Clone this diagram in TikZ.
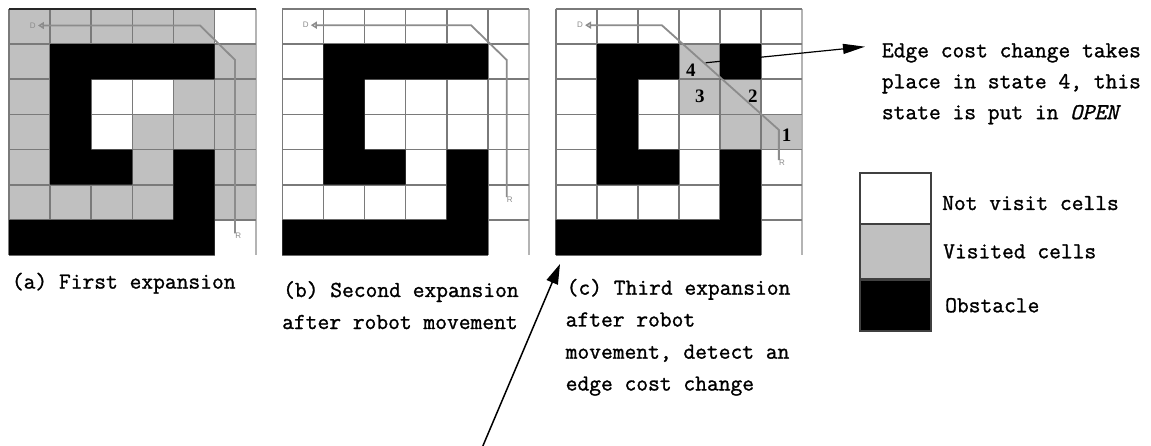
\documentclass[tikz,border=0pt]{standalone}
\usepackage{fontspec}
\usetikzlibrary{arrows.meta}
\newfontfamily\monof[FakeBold=1.2]{Latin Modern Mono}
\newfontfamily\digf{Liberation Serif}
\newfontfamily\tinyf{Liberation Sans}
\definecolor{visit}{HTML}{C0C0C0}
\definecolor{gline}{HTML}{7A7A7A}
\definecolor{gedge}{HTML}{B4B4B4}
\definecolor{pathc}{HTML}{8C8C8C}
\tikzset{
  gridln/.style={draw=gline, line width=1.6pt},
  gridedge/.style={draw=gedge, line width=1.8pt},
  robotpath/.style={draw=pathc, line width=1.8pt},
  rlab/.style={inner sep=0pt, text=pathc, font=\tinyf\fontsize{8}{8}\selectfont},
  txt/.style={anchor=base west, inner sep=0pt, font=\monof\fontsize{22.86}{31}\selectfont},
  numlab/.style={inner sep=0pt, font=\digf\bfseries\fontsize{19}{19}\selectfont},
  legbox/.style={draw=black!75, line width=1.5pt},
  annarrow/.style={draw=black, line width=1.2pt, -{Triangle[length=22pt,width=10pt]}},
  bigarrow/.style={draw=black, line width=1.5pt, -{Triangle[length=20pt,width=12pt]}},
  dtip/.style={-{Triangle[open,length=6pt,width=7pt]}}
}
\begin{document}
\begin{tikzpicture}[x=1pt,y=-1pt]
\useasboundingbox (0,0) rectangle (1151,446);
\fill[white] (0,0) rectangle (1151,446);

% ---------- panel (a) ----------
\begin{scope}[xshift=9pt,yshift=-9pt,x=41.1pt,y=-35.15pt]
  \foreach \c/\r in {0/0,1/0,2/0,3/0,4/0, 0/1,5/1, 0/2,4/2,5/2, 0/3,3/3,4/3,5/3, 0/4,3/4,5/4, 0/5,1/5,2/5,3/5,5/5}
    \fill[visit] (\c,\r) rectangle ++(1,1);
  \foreach \i in {0,...,5} \draw[gridln] (\i,0) -- (\i,7);
  \draw[gridedge] (6,0) -- (6,7);
  \foreach \j in {1,...,6} \draw[gridln] (0,\j) -- (6,\j);
  \draw[draw=black!85,line width=1.8pt] (0,0) -- (6,0);
  \draw[gridln] (0,7) -- (5,7);
  \fill[black] (1,1) rectangle (5,2) (1,2) rectangle (2,4) (1,4) rectangle (3,5)
               (4,4) rectangle (5,6) (0,6) rectangle (5,7);
  \node[rlab,anchor=north west] (Ra) at (5.5,6.38) {R};
  \node[rlab] (Da) at (0.58,0.47) {D};
  \draw[robotpath,dtip] (Ra.north west) -- (5.5,1.45) -- (4.65,0.47) -- ([xshift=2pt]Da.east);
\end{scope}

% ---------- panel (b) ----------
\begin{scope}[xshift=282.3pt,yshift=-9pt,x=41.1pt,y=-35.15pt]
  \foreach \i in {0,...,5} \draw[gridln] (\i,0) -- (\i,7);
  \draw[gridedge] (6,0) -- (6,7);
  \foreach \j in {0,...,6} \draw[gridln] (0,\j) -- (6,\j);
  \draw[gridln] (0,7) -- (5,7);
  \fill[black] (1,1) rectangle (5,2) (1,2) rectangle (2,4) (1,4) rectangle (3,5)
               (4,4) rectangle (5,6) (0,6) rectangle (5,7);
  \node[rlab,anchor=north west] (Rb) at (5.46,5.35) {R};
  \node[rlab] (Db) at (0.57,0.46) {D};
  \draw[robotpath,dtip] (Rb.north west) -- (5.46,1.45) -- (4.59,0.46) -- ([xshift=2pt]Db.east);
\end{scope}

% ---------- panel (c) ----------
\coordinate (tipE) at (865,46.7);
\begin{scope}[xshift=555.7pt,yshift=-9pt,x=41.1pt,y=-35.15pt]
  \foreach \c/\r in {3/1, 3/2,4/2, 4/3,5/3}
    \fill[visit] (\c,\r) rectangle ++(1,1);
  \foreach \i in {0,...,5} \draw[gridln] (\i,0) -- (\i,7);
  \draw[gridedge] (6,0) -- (6,7);
  \foreach \j in {0,...,6} \draw[gridln] (0,\j) -- (6,\j);
  \draw[gridln] (0,7) -- (5,7);
  \coordinate (a4) at (3.65,1.53);
  \draw[annarrow] (a4) -- (tipE);
  \fill[black] (1,1) rectangle (3,2) (4,1) rectangle (5,2) (1,2) rectangle (2,4)
               (1,4) rectangle (3,5) (4,4) rectangle (5,6) (0,6) rectangle (5,7);
  \node[numlab] (n4) at (3.29,1.74) {4};
  \node[numlab] (n3) at (3.51,2.49) {3};
  \node[numlab] (n2) at (4.80,2.49) {2};
  \node[numlab] (n1) at (5.62,3.58) {1};
  \node[rlab,anchor=north west] (Rc) at (5.43,4.3) {R};
  \node[rlab] (Dc) at (0.59,0.46) {D};
  \draw[robotpath,dtip] (Rc.north west) -- (5.43,3.44) -- (2.58,0.46) -- ([xshift=2pt]Dc.east);
\end{scope}

% ---------- annotation ----------
\node[txt] (e1) at (881.7,57.3) {Edge cost change takes};
\node[txt] (e2) at (881.7,88.3) {place in state 4, this};
\node[txt] (e3) at (881.7,119.2) {state is put in {\itshape OPEN}};

% ---------- legend ----------
\draw[legbox,fill=white] (860,173) rectangle (931,224);
\draw[legbox,fill=visit] (860,224) rectangle (931,279);
\draw[legbox,fill=black] (860,280) rectangle (931,331);
\node[txt] (l1) at (942,210) {Not visit cells};
\node[txt] (l2) at (943,258.3) {Visited cells};
\node[txt] (l3) at (945,312.3) {Obstacle};

% ---------- captions ----------
\node[txt] (ca) at (11.7,288.6) {(a) First expansion};
\node[txt] (cb1) at (283,297) {(b) Second expansion};
\node[txt] (cb2) at (282,329) {after robot movement};
\node[txt] (cc1) at (566.5,294.7) {(c) Third expansion};
\node[txt] (cc2) at (565.5,326.5) {after robot};
\node[txt] (cc3) at (565.5,358.7) {movement, detect an};
\node[txt] (cc4) at (565.5,390.5) {edge cost change};

% ---------- big arrow ----------
\coordinate (bt) at (482,448);
\coordinate (bh) at (560,264);
\draw[bigarrow] (bt) -- (bh);
\end{tikzpicture}
\end{document}
